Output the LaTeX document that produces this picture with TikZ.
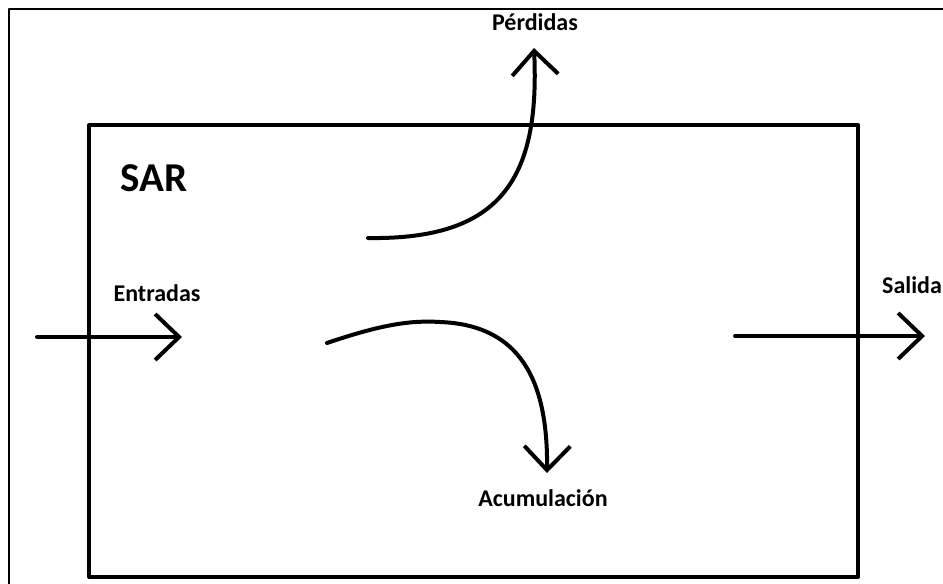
\documentclass[tikz,border=0pt]{standalone}
\usepackage{fontspec}
\setmainfont{Carlito}
\usetikzlibrary{arrows.meta}

\begin{document}
\begin{tikzpicture}[
  x=1pt,
  y=-1pt,
  line join=round,
  frame/.style={draw=black,line width=2pt},
  sysbox/.style={draw=black,line width=4pt},
  flow/.style={draw=black,line width=4pt,line cap=round,
    -{Straight Barb[length=24pt,width=46pt,line width=4pt]}},
  label/.style={font=\fontsize{24}{28}\selectfont\bfseries,inner sep=0pt}
]
  % Keep the page the size of the screenshot.
  \useasboundingbox (0,0) rectangle (943,584);

  % Outer frame (cut off at right and bottom) and the system box.
  \draw[frame] (9,584) -- (9,9) -- (943,9);
  \draw[sysbox] (89,125) rectangle (858,577);

  % Labels.
  \node[font=\fontsize{41}{44}\selectfont\bfseries,inner sep=0pt] (sar) at (154,178) {SAR};
  \node[label] (entradas) at (157,293) {Entradas};
  \node[label] (salida) at (912,285) {Salida};
  \node[label] (perdidas) at (535,22) {Pérdidas};
  \node[label] (acumulacion) at (543,498) {Acumulación};

  % Ends of the flow arrows.
  \coordinate (inStart) at (37,337);
  \coordinate (inEnd) at (182,337);
  \coordinate (outStart) at (735,336);
  \coordinate (outEnd) at (925,336);
  \coordinate (lossStart) at (368,238);
  \coordinate (lossEnd) at (534,48);
  \coordinate (accStart) at (327,343);
  \coordinate (accTop) at (440,322);
  \coordinate (accEnd) at (547,473);

  % Flows in and out of the system.
  \draw[flow] (inStart) -- (inEnd);
  \draw[flow] (outStart) -- (outEnd);
  \draw[flow] (lossStart) .. controls (500,240) and (540,180) .. (lossEnd);
  \draw[flow] (accStart) .. controls (380,325) and (410,320) .. (accTop)
    .. controls (520,325) and (548,380) .. (accEnd);
\end{tikzpicture}
\end{document}
